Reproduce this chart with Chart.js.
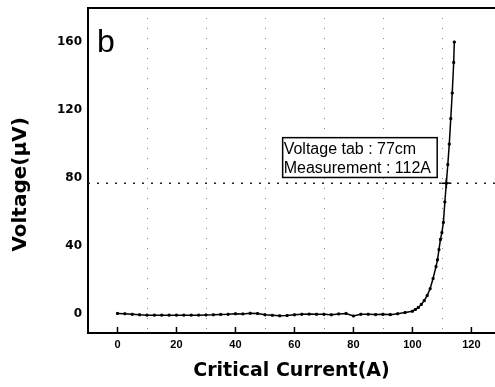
<!DOCTYPE html>
<html><head><meta charset="utf-8">
<script src="https://cdn.jsdelivr.net/npm/chart.js@4/dist/chart.umd.min.js"></script>
<style>html,body{margin:0;padding:0;background:#fff}#wrap{width:495px;height:387px;position:relative}</style>
</head><body><div id="wrap"><canvas id="c"></canvas></div>
<script>
// ---- data ----
const currentA = [0,2.5,5,7.5,10,12.5,15,17.5,20,22.5,25,27.5,30,32.5,35,37.5,40,42.5,45,47.5,50,52.5,55,57.5,60,62.5,65,67.5,70,72.5,75,77.5,80,82.5,85,87.5,90,92.5,95,97.5,100,101,102,103,104,105,106,107,108,108.5,109,109.5,110,110.5,111,111.5,112,112.5,113,113.5,114,114.2];
const voltageUV = [0.5,0.3,0,-0.3,-0.5,-0.5,-0.5,-0.5,-0.5,-0.5,-0.5,-0.5,-0.4,-0.3,-0.1,0,0.3,0.2,0.6,0.4,-0.3,-0.6,-0.9,-0.7,-0.3,0,0.1,0,0,-0.3,0.2,0.5,-1,0,0,-0.2,0,-0.2,0.3,1,1.8,2.8,4,5.8,8,11,15,21,28,32,38,44,48,54,66,77,88,100,115,130,148,160];
const xTickValues = [0,20,40,60,80,100,120];
const xGridValues = [10,30,50,70,90,110];
const yTickValues = [0,40,80,120,160];
const criterionUV = 77;
const cursorA = 111.5;
const panelLabel = 'b';
const noteLines = ['Voltage tab : 77cm', 'Measurement : 112A'];
const xTitle = 'Critical Current(A)';
const yTitle = 'Voltage(\u00B5V)';

const extras = {
  id: 'extras',
  beforeDatasetsDraw(chart) {
    const {ctx, chartArea: a, scales: {x}} = chart;
    ctx.save();
    ctx.strokeStyle = '#8a8a8a';
    ctx.lineWidth = 1;
    ctx.setLineDash([1, 9]);
    xGridValues.forEach(v => {
      const px = Math.round(x.getPixelForValue(v)) + 0.5;
      ctx.beginPath(); ctx.moveTo(px, a.top); ctx.lineTo(px, a.bottom); ctx.stroke();
    });
    ctx.restore();
  },
  afterDatasetsDraw(chart) {
    const {ctx, chartArea: a, scales: {x, y}} = chart;
    ctx.save();
    ctx.strokeStyle = '#000'; ctx.lineWidth = 2;
    ctx.beginPath(); ctx.moveTo(a.left, a.top); ctx.lineTo(a.right, a.top); ctx.stroke();
    ctx.lineWidth = 1.5;
    xTickValues.forEach(v => {
      const px = x.getPixelForValue(v);
      ctx.beginPath(); ctx.moveTo(px, a.bottom); ctx.lineTo(px, a.bottom - 6); ctx.stroke();
    });
    const bx0 = x.getPixelForValue(56), bx1 = x.getPixelForValue(108.4);
    const by0 = y.getPixelForValue(103.8), by1 = y.getPixelForValue(80.4);
    ctx.fillStyle = '#fff';
    ctx.fillRect(bx0, by0, bx1 - bx0, by1 - by0);
    ctx.lineWidth = 1.5; ctx.strokeStyle = '#000';
    ctx.strokeRect(bx0, by0, bx1 - bx0, by1 - by0);
    ctx.fillStyle = '#000';
    ctx.font = '16px "Liberation Sans", Arial, sans-serif';
    ctx.textBaseline = 'alphabetic'; ctx.textAlign = 'left';
    ctx.fillText(noteLines[0], bx0 + 1, by0 + 16);
    ctx.fillText(noteLines[1], bx0 + 1, by0 + 35);
    ctx.font = '32px "Liberation Sans", Arial, sans-serif';
    ctx.fillText(panelLabel, a.left + 9, a.top + 44);
    ctx.restore();
  }
};

new Chart(document.getElementById('c'), {
  type: 'line',
  data: {
    datasets: [
      {
        data: currentA.map((v, i) => ({x: v, y: voltageUV[i]})),
        borderColor: '#000', backgroundColor: '#000', borderWidth: 1.5,
        pointStyle: 'rect', pointRadius: 1.4, pointBorderWidth: 1, tension: 0
      },
      {
        data: [{x: -10, y: criterionUV}, {x: 128, y: criterionUV}],
        borderColor: '#222', borderWidth: 1.5, borderDash: [2, 7], pointRadius: 0
      },
      {
        data: [{x: cursorA, y: criterionUV}],
        borderColor: '#000', borderWidth: 1.5, pointStyle: 'cross', pointRadius: 5, showLine: false
      }
    ]
  },
  options: {
    responsive: true, maintainAspectRatio: false, animation: false,
    layout: {autoPadding: false, padding: {top: 8, right: 0, left: 0, bottom: 0}},
    plugins: {legend: {display: false}, tooltip: {enabled: false}},
    scales: {
      x: {
        type: 'linear', min: -10, max: 128,
        afterBuildTicks: s => { s.ticks = xTickValues.map(v => ({value: v})); },
        afterFit: s => { s.height = 54; s.paddingRight = 0; s.paddingLeft = 0; },
        grid: {display: true, drawOnChartArea: false, drawTicks: false},
        border: {display: true, color: '#000', width: 2},
        ticks: {color: '#000', padding: 5, font: {family: '"Liberation Sans", Arial', weight: 'bold', size: 11}, maxRotation: 0, autoSkip: false},
        title: {display: true, text: xTitle, color: '#000', padding: {top: 5, bottom: 5}, font: {family: '"DejaVu Sans"', weight: 'bold', size: 19}}
      },
      y: {
        type: 'linear', min: -11, max: 180,
        afterBuildTicks: s => { s.ticks = yTickValues.map(v => ({value: v})); },
        afterFit: s => { s.width = 88; s.paddingTop = 0; s.paddingBottom = 0; },
        grid: {display: true, drawOnChartArea: false, drawTicks: false},
        border: {display: true, color: '#000', width: 2},
        ticks: {color: '#000', padding: 6, font: {family: '"DejaVu Sans"', weight: 'bold', size: 12}},
        title: {display: true, text: yTitle + '\u00A0\u00A0\u00A0\u00A0', color: '#000', padding: {top: 9, bottom: 9}, font: {family: '"DejaVu Sans"', weight: 'bold', size: 20}}
      }
    }
  },
  plugins: [extras]
});
</script>
</body></html>
